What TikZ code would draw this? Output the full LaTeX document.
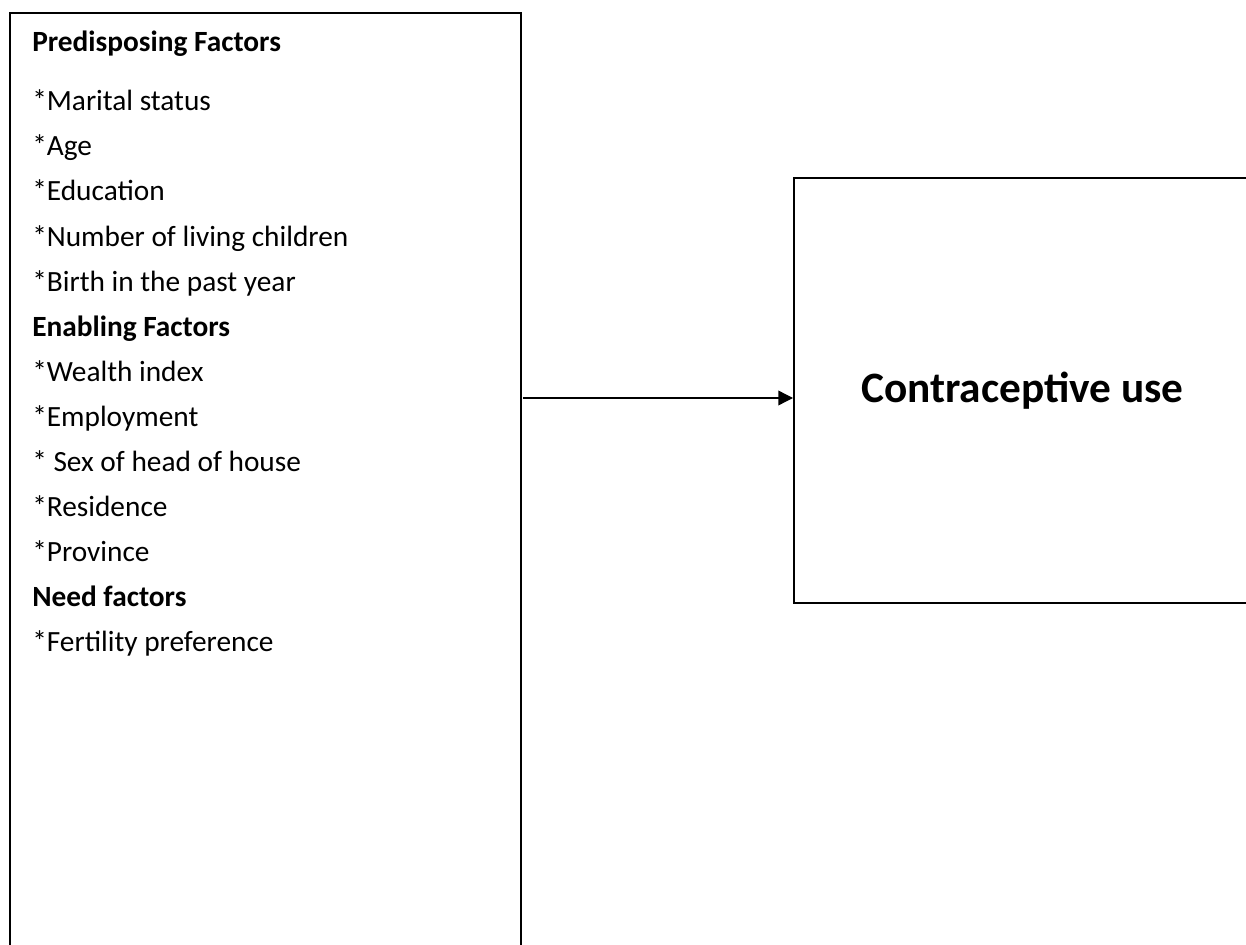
\documentclass[tikz,border=0pt]{standalone}
\usepackage{fontspec}
\setmainfont{Carlito}
\usetikzlibrary{arrows.meta}
\tikzset{
  box/.style={draw, line width=1.6pt, inner sep=0pt},
  item/.style={anchor=base west, inner sep=0pt, font=\fontsize{22}{26}\selectfont},
  head/.style={item, font=\fontsize{22}{26}\selectfont\bfseries},
}
\begin{document}
\begin{tikzpicture}[x=0.75pt, y=-0.75pt]
    \useasboundingbox (0,0) rectangle (1246,945);
    \clip (0,0) rectangle (1246,945);
    % the two boxes
    \node[box, anchor=north west, minimum width=511*0.75pt, minimum height=960*0.75pt] (factors) at (8.5,12) {};
    \node[box, anchor=north west, minimum width=457*0.75pt, minimum height=425*0.75pt,
          font=\fontsize{32.5}{38}\selectfont\bfseries] (use) at (793,177) {Contraceptive use};
    % list of factors
    \node[head] (pre) at (32,52) {Predisposing Factors};
    \node[item] (marital) at (32,111) {*Marital status};
    \node[item] (age) at (32,156) {*Age};
    \node[item] (edu) at (32,201) {*Education};
    \node[item] (children) at (32,246) {*Number of living children};
    \node[item] (birth) at (32,291) {*Birth in the past year};
    \node[head] (enab) at (32,336) {Enabling Factors};
    \node[item] (wealth) at (32,381) {*Wealth index};
    \node[item] (employ) at (32,426) {*Employment};
    \node[item] (sex) at (32,471) {* Sex of head of house};
    \node[item] (resid) at (32,516) {*Residence};
    \node[item] (prov) at (32,561) {*Province};
    \node[head] (need) at (32,606) {Need factors};
    \node[item] (fert) at (32,651) {*Fertility preference};
    % arrow
    \coordinate (tail) at (523,398);
    \draw[line width=1pt, -{Triangle[length=11pt, width=11pt]}] (tail) -- (tail -| use.west);
\end{tikzpicture}
\end{document}
